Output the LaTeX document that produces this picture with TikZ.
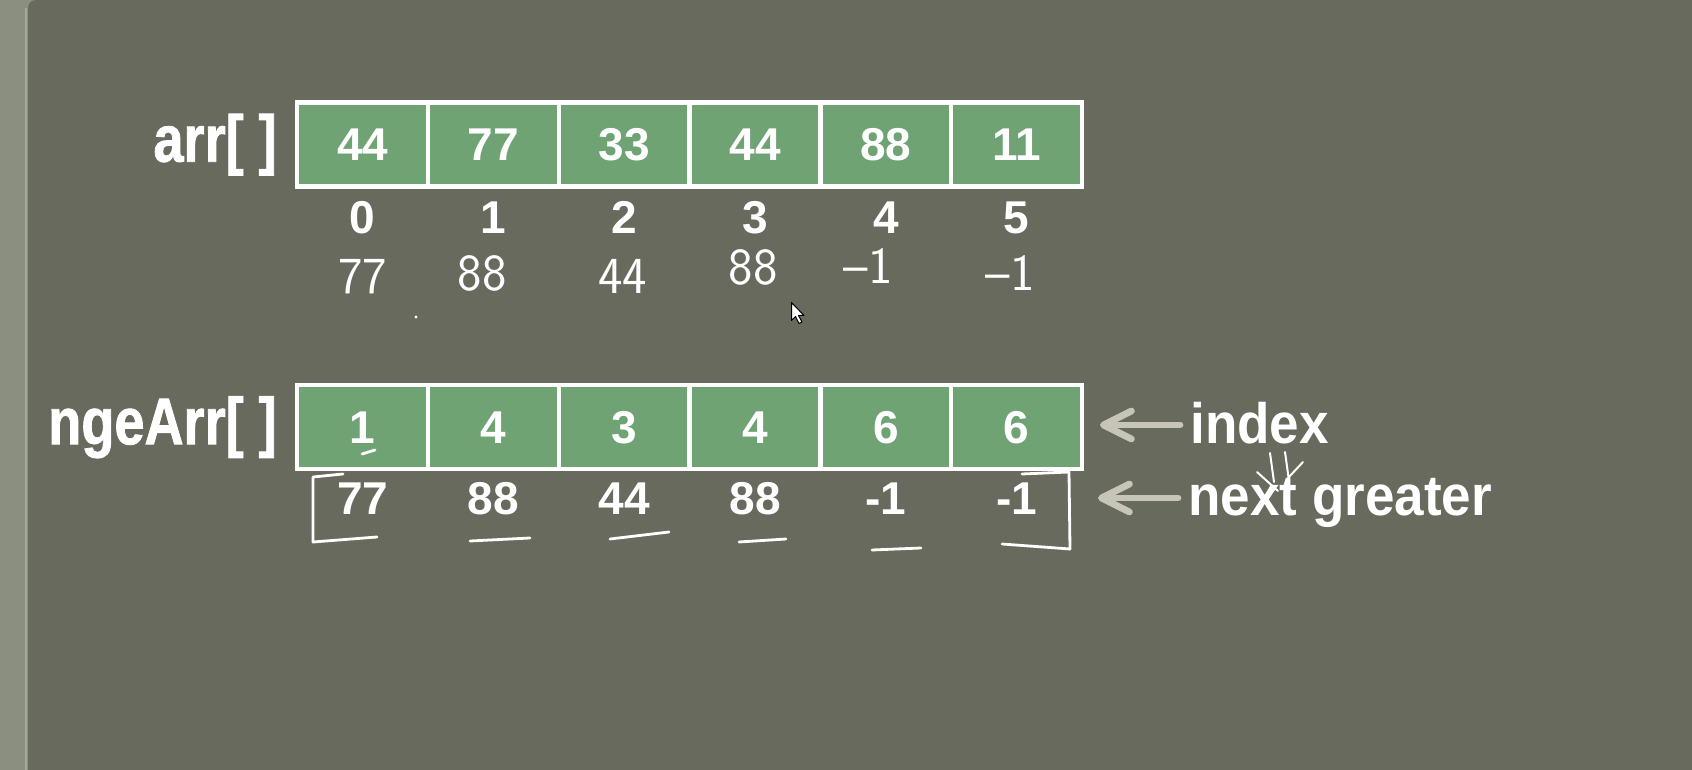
\documentclass[tikz,border=0pt]{standalone}
\usepackage{fontspec}
\setmainfont{Liberation Sans}
\newfontfamily\labelfont{Liberation Sans}[FakeStretch=0.82,FakeBold=1.2]
\newfontfamily\notefont{Liberation Sans}[FakeStretch=0.93]
\usepackage{xcolor}
\usetikzlibrary{arrows.meta,positioning}

\definecolor{panelgrey}{RGB}{104,106,94}
\definecolor{stripgrey}{RGB}{138,143,127}
\definecolor{stripedge}{RGB}{165,170,152}
\definecolor{cellgreen}{RGB}{111,163,116}
\definecolor{arrowgrey}{RGB}{199,197,184}

\begin{document}
\begin{tikzpicture}[
    x=0.5pt, y=-0.5pt,
    cell/.style={rectangle, draw=white, line width=2.15pt, fill=cellgreen, minimum width=65.4pt, minimum height=42pt, inner sep=0pt, outer sep=0pt, text=white, font=\fontsize{23}{26}\selectfont\bfseries},
    arrname/.style={inner sep=0pt, text=white, font=\labelfont\fontsize{33}{36}\selectfont\bfseries},
    digit/.style={inner sep=0pt, text=white, font=\fontsize{23}{26}\selectfont\bfseries},
    hand/.style={inner sep=0pt, text=white, font=\sffamily\fontsize{26}{28}\selectfont},
    note/.style={inner sep=0pt, anchor=base west, text=white, font=\notefont\fontsize{28.5}{31}\selectfont\bfseries},
    ink/.style={white, line width=1.4pt, line cap=round, line join=round},
    pointer/.style={-{Straight Barb[length=14pt,width=14pt,round]}, draw=arrowgrey, line width=3.4pt, line cap=round, shorten <=5pt}
]
    % slide background
    \useasboundingbox (0,0) rectangle (1692,770);
    \fill[stripgrey] (0,0) rectangle (1692,770);
    \fill[panelgrey, rounded corners=4pt] (28,0) rectangle (1730,800);
    \draw[stripedge, line width=1pt] (26,8) -- (26,770);

    % arr[ ]
    \node[cell] (a0) at (362.6,144.6) {44};
    \node[cell, right=0pt of a0] (a1) {77};
    \node[cell, right=0pt of a1] (a2) {33};
    \node[cell, right=0pt of a2] (a3) {44};
    \node[cell, right=0pt of a3] (a4) {88};
    \node[cell, right=0pt of a4] (a5) {11};
    \node[arrname, left=10pt of a0] (arrlabel) {arr[ ]};

    \node[digit, below=7.2pt of a0] (i0) {0};
    \node[digit, below=7.2pt of a1] (i1) {1};
    \node[digit, below=7.2pt of a2] (i2) {2};
    \node[digit, below=7.2pt of a3] (i3) {3};
    \node[digit, below=7.2pt of a4] (i4) {4};
    \node[digit, below=7.2pt of a5] (i5) {5};

    % handwritten answers
    \node[hand] (h0) at (362.7,277) {77};
    \node[hand] (h1) at (482,273) {88};
    \node[hand] (h2) at (622.5,276) {44};
    \node[hand] (h3) at (753,267) {88};
    \node[hand] (h4) at (868,266) {–1};
    \node[hand] (h5) at (1010,273) {–1};
    \fill[white] (416,317) circle (1.6);

    % mouse pointer
    \filldraw[fill=white, draw=black, line width=0.5pt, line join=round] (791.5,302.5) -- ++(0,18) -- ++(4,-4) -- ++(3.5,7) -- ++(3,-1.5) -- ++(-3.5,-6.5) -- ++(5.5,0) -- cycle;

    % ngeArr[ ]
    \node[cell] (n0) at (362.6,427.3) {1};
    \node[cell, right=0pt of n0] (n1) {4};
    \node[cell, right=0pt of n1] (n2) {3};
    \node[cell, right=0pt of n2] (n3) {4};
    \node[cell, right=0pt of n3] (n4) {6};
    \node[cell, right=0pt of n4] (n5) {6};
    \node[arrname, left=10pt of n0] (ngelabel) {ngeArr[ ]};

    \node[digit, below=6.35pt of n0] (g0) {77};
    \node[digit, below=6.35pt of n1] (g1) {88};
    \node[digit, below=6.35pt of n2] (g2) {44};
    \node[digit, below=6.35pt of n3] (g3) {88};
    \node[digit, below=6.35pt of n4] (g4) {-1};
    \node[digit, below=6.35pt of n5] (g5) {-1};

    % pen marks
    \draw[ink] (362,454) -- (375,450);
    \draw[ink] (343,474) -- (313,477) -- (313,542) -- (377,537);
    \draw[ink] (470,541) -- (530,538);
    \draw[ink] (610,539) -- (669,532);
    \draw[ink] (739,542) -- (786,539);
    \draw[ink] (872,550) -- (921,548);
    \draw[ink] (1022,474) -- (1069,472) -- (1070,549) -- (1002,544);

    % notes
    \node[note] (idx) at (1190,443) {index};
    \node[note] (nxt) at (1188,515) {next greater};
    \coordinate (idxtip) at (1100,425);
    \coordinate (nxttip) at (1098,498);
    \draw[pointer] (idx.west |- idxtip) -- (idxtip);
    \draw[pointer] (nxt.west |- nxttip) -- (nxttip);

    \draw[ink, line width=1pt] (1257,472) -- (1278,491);
    \draw[ink, line width=1pt] (1270,453) -- (1274,482);
    \draw[ink, line width=1pt] (1285,452) -- (1289,481);
    \draw[ink, line width=1pt] (1288,478) -- (1303,462);
\end{tikzpicture}
\end{document}
